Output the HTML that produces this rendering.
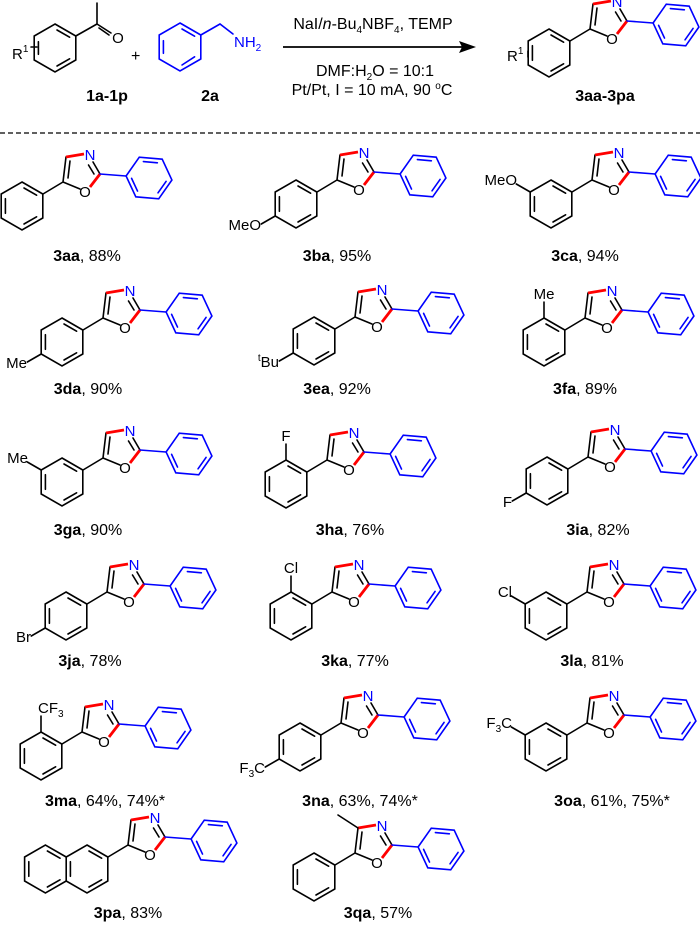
<!DOCTYPE html>
<html><head><meta charset="utf-8"><style>
html,body{margin:0;padding:0;background:#fff;}
svg{display:block;font-family:"Liberation Sans",Arial,sans-serif;}
.b{stroke:#000;stroke-width:1.6;fill:none;stroke-linecap:round;}
.bl{stroke:#0000ff;stroke-width:1.6;fill:none;stroke-linecap:round;}
.r{stroke:#ff0000;stroke-width:2.8;fill:none;stroke-linecap:butt;}
.at{font-size:15px;text-anchor:middle;}
.lab{font-size:16px;text-anchor:middle;}
</style></head><body>
<svg width="700" height="934" viewBox="0 0 700 934" xmlns="http://www.w3.org/2000/svg">
<defs>
  <g id="core">
    <path class="b" d="M0,0 L3,-25 M5,-4 L7,-21 M30,-20 L37,-8 M25.5,-17 L31,-8 M17,7 L0,0 M0,0 L-20,12"/>
    <path class="r" d="M3,-25 L21,-28 M37,-8 L27,5"/>
    <path class="bl" d="M37,-8 L63,-6"/>
    <g transform="translate(86,-4) rotate(5)">
      <path class="bl" d="M23,0 L11.5,19.9 L-11.5,19.9 L-23,0 L-11.5,-19.9 L11.5,-19.9 Z M-7,-15.9 L7,-15.9 M17.3,1.9 L10.3,14 M-10.3,14 L-17.3,1.9"/>
    </g>
  </g>
  <g id="ar">
    <g transform="translate(-41,24)">
      <path class="b" d="M0,-24 L20.8,-12 L20.8,12 L0,24 L-20.8,12 L-20.8,-12 Z M2,-18 L14.6,-10.8 M14.6,10.8 L2,18 M-16.6,7.3 L-16.6,-7.3"/>
    </g>
  </g>
</defs>

<!-- header -->
<g>
  <path class="b" d="M55,24 L75.8,36 L75.8,60 L55,72 L34.2,60 L34.2,36 Z M57,30 L69.6,37.2 M69.6,58.8 L57,66 M38.4,54.3 L38.4,41.7"/>
  <path class="b" d="M75.8,36 L97,24 L97,3 M97,24 L111,33 M99,28 L109,35"/>
  <text class="at" x="118" y="43">O</text>
  <path class="b" d="M31,47 L37,47"/>
  <text x="12" y="59" font-size="15">R<tspan font-size="10" dy="-7">1</tspan></text>
  <text x="131" y="61" font-size="16">+</text>
  <path class="bl" d="M180,23 L200.8,35 L200.8,59 L180,71 L159.2,59 L159.2,35 Z M182,29 L194.6,36.2 M194.6,56.8 L182,65 M163.4,53.3 L163.4,40.7 M200.8,35 L220,24 L233,34"/>
  <text x="234" y="47" font-size="15" fill="#0000ff">NH<tspan font-size="10" dy="4">2</tspan></text>
  <text x="107" y="101" class="lab" font-weight="bold">1a-1p</text>
  <text x="210" y="101" class="lab" font-weight="bold">2a</text>
  <path d="M283,47 L462,47" stroke="#000" stroke-width="1.8"/>
  <path d="M476,47 L459,41 L462,47 L459,53 Z" fill="#000"/>
  <text x="373" y="29" font-size="16" text-anchor="middle">NaI/<tspan font-style="italic">n</tspan>-Bu<tspan font-size="10" dy="4">4</tspan><tspan dy="-4">NBF</tspan><tspan font-size="10" dy="4">4</tspan><tspan dy="-4">, TEMP</tspan></text>
  <text x="375" y="76" font-size="16" text-anchor="middle">DMF:H<tspan font-size="10" dy="4">2</tspan><tspan dy="-4">O = 10:1</tspan></text>
  <text x="372" y="95" font-size="16" text-anchor="middle">Pt/Pt, I = 10 mA, 90 <tspan font-size="10" dy="-6">o</tspan><tspan dy="6">C</tspan></text>
  <g transform="translate(590,29)"><use href="#core"/><use href="#ar"/>
    <text class="at" x="27" y="-22" fill="#0000ff">N</text><text class="at" x="22" y="15">O</text>
    <path class="b" d="M-62,22 L-62,28"/>
  </g>
  <text x="507" y="61" font-size="15">R<tspan font-size="10" dy="-7">1</tspan></text>
  <text x="605" y="101" class="lab" font-weight="bold">3aa-3pa</text>
  <path d="M0,133 L700,133" stroke="#000" stroke-width="1.2" stroke-dasharray="5,3"/>
</g>

<!-- row 1 -->
<g transform="translate(63,182)"><use href="#core"/><use href="#ar"/>
  <text class="at" x="27" y="-22" fill="#0000ff">N</text><text class="at" x="22" y="15">O</text></g>
<g transform="translate(337,180)"><use href="#core"/><use href="#ar"/>
  <text class="at" x="27" y="-22" fill="#0000ff">N</text><text class="at" x="22" y="15">O</text>
  <path class="b" d="M-61.8,36 L-75.7,44"/><text x="-76" y="50" font-size="15" text-anchor="end">MeO</text></g>
<g transform="translate(592,180)"><use href="#core"/><use href="#ar"/>
  <text class="at" x="27" y="-22" fill="#0000ff">N</text><text class="at" x="22" y="15">O</text>
  <path class="b" d="M-61.8,12 L-75.7,4"/><text x="-75" y="5" font-size="15" text-anchor="end">MeO</text></g>
<text class="lab" x="87" y="261"><tspan font-weight="bold">3aa</tspan>, 88%</text>
<text class="lab" x="337" y="261"><tspan font-weight="bold">3ba</tspan>, 95%</text>
<text class="lab" x="585" y="261"><tspan font-weight="bold">3ca</tspan>, 94%</text>

<!-- row 2 -->
<g transform="translate(103,318)"><use href="#core"/><use href="#ar"/>
  <text class="at" x="27" y="-22" fill="#0000ff">N</text><text class="at" x="22" y="15">O</text>
  <path class="b" d="M-61.8,36 L-75.7,44"/><text x="-76" y="50" font-size="15" text-anchor="end">Me</text></g>
<g transform="translate(355,317)"><use href="#core"/><use href="#ar"/>
  <text class="at" x="27" y="-22" fill="#0000ff">N</text><text class="at" x="22" y="15">O</text>
  <path class="b" d="M-61.8,36 L-75.7,44"/><text x="-76" y="50" font-size="15" text-anchor="end"><tspan font-size="10" dy="-6">t</tspan><tspan dy="6">Bu</tspan></text></g>
<g transform="translate(585,318)"><use href="#core"/><use href="#ar"/>
  <text class="at" x="27" y="-22" fill="#0000ff">N</text><text class="at" x="22" y="15">O</text>
  <path class="b" d="M-41,0 L-41,-16"/><text class="at" x="-41" y="-19">Me</text></g>
<text class="lab" x="88" y="394"><tspan font-weight="bold">3da</tspan>, 90%</text>
<text class="lab" x="337" y="394"><tspan font-weight="bold">3ea</tspan>, 92%</text>
<text class="lab" x="585" y="394"><tspan font-weight="bold">3fa</tspan>, 89%</text>

<!-- row 3 -->
<g transform="translate(103,458)"><use href="#core"/><use href="#ar"/>
  <text class="at" x="27" y="-22" fill="#0000ff">N</text><text class="at" x="22" y="15">O</text>
  <path class="b" d="M-61.8,12 L-75.7,4"/><text x="-75" y="5" font-size="15" text-anchor="end">Me</text></g>
<g transform="translate(327,460)"><use href="#core"/><use href="#ar"/>
  <text class="at" x="27" y="-22" fill="#0000ff">N</text><text class="at" x="22" y="15">O</text>
  <path class="b" d="M-41,0 L-41,-16"/><text class="at" x="-41" y="-19">F</text></g>
<g transform="translate(588,457)"><use href="#core"/><use href="#ar"/>
  <text class="at" x="27" y="-22" fill="#0000ff">N</text><text class="at" x="22" y="15">O</text>
  <path class="b" d="M-61.8,36 L-75.7,44"/><text x="-76" y="50" font-size="15" text-anchor="end">F</text></g>
<text class="lab" x="88" y="535"><tspan font-weight="bold">3ga</tspan>, 90%</text>
<text class="lab" x="350" y="535"><tspan font-weight="bold">3ha</tspan>, 76%</text>
<text class="lab" x="598" y="535"><tspan font-weight="bold">3ia</tspan>, 82%</text>

<!-- row 4 -->
<g transform="translate(107,592)"><use href="#core"/><use href="#ar"/>
  <text class="at" x="27" y="-22" fill="#0000ff">N</text><text class="at" x="22" y="15">O</text>
  <path class="b" d="M-61.8,36 L-75.7,44"/><text x="-76" y="50" font-size="15" text-anchor="end">Br</text></g>
<g transform="translate(332,592)"><use href="#core"/><use href="#ar"/>
  <text class="at" x="27" y="-22" fill="#0000ff">N</text><text class="at" x="22" y="15">O</text>
  <path class="b" d="M-41,0 L-41,-16"/><text class="at" x="-41" y="-19">Cl</text></g>
<g transform="translate(587,592)"><use href="#core"/><use href="#ar"/>
  <text class="at" x="27" y="-22" fill="#0000ff">N</text><text class="at" x="22" y="15">O</text>
  <path class="b" d="M-61.8,12 L-75.7,4"/><text x="-75" y="5" font-size="15" text-anchor="end">Cl</text></g>
<text class="lab" x="90" y="666"><tspan font-weight="bold">3ja</tspan>, 78%</text>
<text class="lab" x="355" y="666"><tspan font-weight="bold">3ka</tspan>, 77%</text>
<text class="lab" x="592" y="666"><tspan font-weight="bold">3la</tspan>, 81%</text>

<!-- row 5 -->
<g transform="translate(82,732)"><use href="#core"/><use href="#ar"/>
  <text class="at" x="27" y="-22" fill="#0000ff">N</text><text class="at" x="22" y="15">O</text>
  <path class="b" d="M-41,0 L-41,-16"/><text x="-44" y="-19" font-size="15">CF<tspan font-size="10" dy="4">3</tspan></text></g>
<g transform="translate(341,723)"><use href="#core"/><use href="#ar"/>
  <text class="at" x="27" y="-22" fill="#0000ff">N</text><text class="at" x="22" y="15">O</text>
  <path class="b" d="M-61.8,36 L-75.7,44"/><text x="-76" y="50" font-size="15" text-anchor="end">F<tspan font-size="10" dy="4">3</tspan><tspan dy="-4">C</tspan></text></g>
<g transform="translate(587,723)"><use href="#core"/><use href="#ar"/>
  <text class="at" x="27" y="-22" fill="#0000ff">N</text><text class="at" x="22" y="15">O</text>
  <path class="b" d="M-61.8,12 L-75.7,4"/><text x="-75" y="5" font-size="15" text-anchor="end">F<tspan font-size="10" dy="4">3</tspan><tspan dy="-4">C</tspan></text></g>
<text class="lab" x="105" y="806"><tspan font-weight="bold">3ma</tspan>, 64%, 74%*</text>
<text class="lab" x="360" y="806"><tspan font-weight="bold">3na</tspan>, 63%, 74%*</text>
<text class="lab" x="612" y="806"><tspan font-weight="bold">3oa</tspan>, 61%, 75%*</text>

<!-- row 6 -->
<g transform="translate(128,845)"><use href="#core"/><use href="#ar"/>
  <text class="at" x="27" y="-22" fill="#0000ff">N</text><text class="at" x="22" y="15">O</text>
  <g transform="translate(-82.6,24)">
    <path class="b" d="M20.8,-12 L0,-24 L-20.8,-12 L-20.8,12 L0,24 L20.8,12 M2,-18 L14.6,-10.8 M-16.6,7.3 L-16.6,-7.3 M2,18 L14.6,10.8"/>
  </g>
</g>
<g transform="translate(355,853)"><use href="#core"/><use href="#ar"/>
  <text class="at" x="27" y="-22" fill="#0000ff">N</text><text class="at" x="22" y="15">O</text>
  <path class="b" d="M3,-25 L-17,-38"/></g>
<text class="lab" x="128" y="918"><tspan font-weight="bold">3pa</tspan>, 83%</text>
<text class="lab" x="378" y="918"><tspan font-weight="bold">3qa</tspan>, 57%</text>
</svg>
</body></html>
